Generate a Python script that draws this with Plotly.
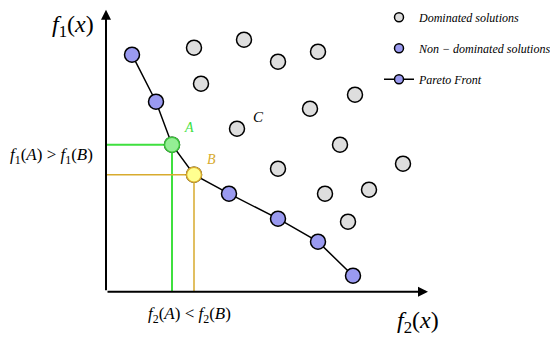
import plotly.graph_objects as go

# ---- data (f2 on horizontal axis, f1 on vertical axis) ----
pareto_f2 = [2.6, 5.0, 6.6, 8.8, 12.3, 17.2, 21.2, 24.7]
pareto_f1 = [23.7, 19.0, 14.7, 11.7, 9.8, 7.3, 5.0, 1.6]

dominated_f2 = [8.8, 13.8, 17.2, 21.2, 9.5, 24.9, 20.4, 13.1, 23.4, 17.2, 29.7, 21.9, 26.3, 24.2]
dominated_f1 = [24.4, 25.2, 23.0, 24.0, 20.8, 19.7, 18.3, 16.3, 14.7, 12.3, 12.8, 9.8, 10.2, 7.0]

point_A = (6.6, 14.7)
point_B = (8.8, 11.7)
point_C_label = (15.2, 17.5)

axis_len_f2 = 32.2
axis_len_f1 = 28.2

x_range = [-10.6, 44.4]
y_range = [-4.53, 29.17]

SERIF = "Liberation Serif"
BLUE = "#9a9af0"
GREY = "#dedede"
GREEN = "#3fe03f"
GOLD = "#d8ab2e"

fig = go.Figure()

# guide lines for A and B
fig.add_trace(go.Scatter(x=[0, point_A[0], point_A[0]], y=[point_A[1], point_A[1], 0],
                         mode="lines", line=dict(color=GREEN, width=2), showlegend=False, hoverinfo="skip"))
fig.add_trace(go.Scatter(x=[0, point_B[0], point_B[0]], y=[point_B[1], point_B[1], 0],
                         mode="lines", line=dict(color=GOLD, width=1.5), showlegend=False, hoverinfo="skip"))

# Pareto front line + markers
fig.add_trace(go.Scatter(x=pareto_f2, y=pareto_f1, mode="lines+markers",
                         line=dict(color="black", width=1.5),
                         marker=dict(size=15, color=BLUE, line=dict(color="black", width=1.5)),
                         showlegend=False))

# dominated
fig.add_trace(go.Scatter(x=dominated_f2, y=dominated_f1, mode="markers",
                         marker=dict(size=15, color=GREY, line=dict(color="black", width=1.5)),
                         showlegend=False))

# A and B highlighted
fig.add_trace(go.Scatter(x=[point_A[0]], y=[point_A[1]], mode="markers",
                         marker=dict(size=15, color="#94ee94", line=dict(color="#3cc23c", width=1.5)),
                         showlegend=False))
fig.add_trace(go.Scatter(x=[point_B[0]], y=[point_B[1]], mode="markers",
                         marker=dict(size=15, color="#ffff90", line=dict(color=GOLD, width=1.5)),
                         showlegend=False))

# legend entries
fig.add_trace(go.Scatter(x=[None], y=[None], mode="markers", name="Dominated solutions",
                         legendgroup="a",
                         marker=dict(size=9, color=GREY, line=dict(color="black", width=1.5))))
fig.add_trace(go.Scatter(x=[None], y=[None], mode="markers", name="Non \u2212 dominated solutions",
                         legendgroup="b",
                         marker=dict(size=9, color=BLUE, line=dict(color="black", width=1.5))))
fig.add_trace(go.Scatter(x=[None], y=[None], mode="lines+markers", name="Pareto Front",
                         legendgroup="c",
                         line=dict(color="black", width=1.5),
                         marker=dict(size=9, color=BLUE, line=dict(color="black", width=1.5))))

# axes as arrows
fig.add_annotation(x=axis_len_f2, y=0, ax=0, ay=0, xref="x", yref="y", axref="x", ayref="y",
                   showarrow=True, arrowhead=2, arrowsize=1, arrowwidth=2, arrowcolor="black", text="")
fig.add_annotation(x=0, y=axis_len_f1, ax=0, ay=0, xref="x", yref="y", axref="x", ayref="y",
                   showarrow=True, arrowhead=2, arrowsize=1, arrowwidth=2, arrowcolor="black", text="")

def label(x, y, text, size, color="black"):
    fig.add_annotation(x=x, y=y, xref="x", yref="y", text=text, showarrow=False,
                       font=dict(family=SERIF, size=size, color=color))

label(-3.3, 26.6, "<i>f</i><sub>1</sub>(<i>x</i>)", 24)
label(31.2, -3.0, "<i>f</i><sub>2</sub>(<i>x</i>)", 24)
label(-5.5, 13.6, "<i>f</i><sub>1</sub>(<i>A</i>) &gt; <i>f</i><sub>1</sub>(<i>B</i>)", 17)
label(8.3, -2.3, "<i>f</i><sub>2</sub>(<i>A</i>) &lt; <i>f</i><sub>2</sub>(<i>B</i>)", 17)
label(point_A[0] + 1.7, point_A[1] + 1.7, "<i>A</i>", 14, GREEN)
label(point_B[0] + 1.7, point_B[1] + 1.5, "<i>B</i>", 14, GOLD)
label(point_C_label[0], point_C_label[1], "<i>C</i>", 15)

fig.update_layout(
    width=550, height=337,
    margin=dict(l=0, r=0, t=0, b=0, autoexpand=False),
    paper_bgcolor="white", plot_bgcolor="white",
    xaxis=dict(range=x_range, visible=False, fixedrange=True),
    yaxis=dict(range=y_range, visible=False, fixedrange=True),
    showlegend=True,
    legend=dict(x=379 / 550, y=1 - 2.7 / 337, xanchor="left", yanchor="top",
                traceorder="grouped", tracegroupgap=12,
                font=dict(family=SERIF, size=12, color="black", style="italic"),
                bgcolor="rgba(0,0,0,0)"),
)

fig.write_html("out.html", config={"displayModeBar": False},
               post_script="document.body.style.margin='0';document.body.style.overflow='hidden';")
